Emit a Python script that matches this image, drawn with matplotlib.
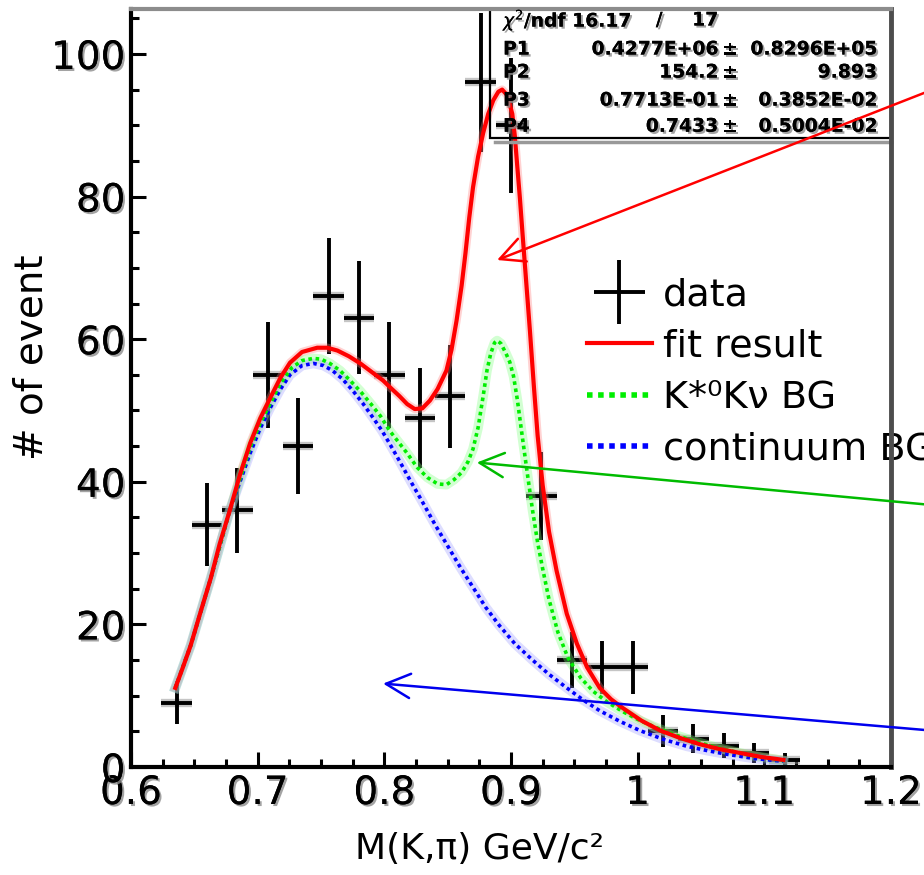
import numpy as np
import matplotlib.pyplot as plt
import matplotlib.patheffects as pe
from matplotlib.patches import Rectangle
from matplotlib.lines import Line2D
from matplotlib.ticker import MultipleLocator, FixedLocator, FixedFormatter
from matplotlib.legend_handler import HandlerErrorbar
from matplotlib.container import ErrorbarContainer

# histogram of M(K,pi), 0.024 GeV/c^2 bins
mass = [0.636, 0.660, 0.684, 0.708, 0.732, 0.756, 0.780, 0.804, 0.828, 0.852, 0.876,
        0.900, 0.924, 0.948, 0.972, 0.996, 1.020, 1.044, 1.068, 1.092, 1.116]
events = [9, 34, 36, 55, 45, 66, 63, 55, 49, 52, 96,
          90, 38, 15, 14, 14, 5, 4, 3, 2, 1]
half_bin = 0.012

# fit result (total)
fit_x = [0.635, 0.641, 0.647, 0.655, 0.663, 0.670, 0.678, 0.686, 0.694, 0.702, 0.710,
         0.718, 0.7255, 0.735, 0.747, 0.755, 0.763, 0.772, 0.781, 0.790, 0.799, 0.806,
         0.812, 0.818, 0.824, 0.830, 0.836, 0.842, 0.849, 0.853, 0.857, 0.861, 0.864,
         0.867, 0.870, 0.874, 0.878, 0.882, 0.886, 0.890, 0.893, 0.897, 0.901, 0.903,
         0.905, 0.907, 0.909, 0.912, 0.915, 0.918, 0.921, 0.925, 0.930, 0.936, 0.944,
         0.952, 0.960, 0.970, 0.979, 0.988, 1.003, 1.018, 1.033, 1.049, 1.065, 1.080,
         1.098, 1.115]
fit_y = [11.1, 14.0, 17.0, 21.8, 26.5, 31.3, 36.0, 41.0, 45.4, 48.9, 51.8,
         54.6, 56.7, 58.2, 58.8, 58.8, 58.4, 57.6, 56.6, 55.4, 54.2, 53.0,
         52.0, 50.9, 50.2, 50.3, 51.4, 53.0, 55.6, 58.5, 62.6, 67.5, 72.0,
         77.0, 81.3, 85.6, 88.9, 91.6, 93.5, 94.7, 95.0, 94.2, 91.6, 88.5,
         84.1, 79.8, 75.0, 68.0, 61.0, 53.5, 46.5, 39.5, 33.0, 27.5, 21.5,
         17.3, 14.0, 11.1, 9.5, 8.3, 6.5, 5.1, 4.1, 3.2, 2.5, 2.0,
         1.4, 1.0]

# K*0 K nu background
kst_x = [0.635, 0.647, 0.663, 0.678, 0.694, 0.702, 0.710, 0.718, 0.727, 0.735, 0.744,
         0.750, 0.757, 0.765, 0.773, 0.781, 0.789, 0.797, 0.804, 0.811, 0.818, 0.826,
         0.834, 0.842, 0.849, 0.855, 0.861, 0.866, 0.870, 0.874, 0.878, 0.881, 0.884,
         0.887, 0.889, 0.892, 0.896, 0.899, 0.902, 0.905, 0.909, 0.913, 0.917, 0.921,
         0.925, 0.930, 0.937, 0.945, 0.955, 0.965, 0.976, 0.989, 1.002, 1.015, 1.028,
         1.045, 1.063, 1.090, 1.115]
kst_y = [11.1, 17.0, 26.5, 36.0, 44.8, 48.2, 51.0, 53.8, 56.0, 57.0, 57.3,
         57.2, 56.6, 55.6, 54.2, 52.7, 51.0, 49.2, 47.2, 45.6, 44.0, 42.0,
         40.6, 39.7, 39.6, 40.3, 41.3, 42.8, 44.6, 47.6, 52.0, 55.6, 58.0,
         59.5, 59.8, 59.4, 58.0, 56.8, 54.8, 51.5, 46.2, 41.0, 36.0, 31.5,
         27.8, 23.5, 18.9, 15.3, 12.5, 10.6, 9.1, 7.7, 6.5, 5.5, 4.6,
         3.6, 2.7, 1.6, 0.9]

# continuum background
cont_x = [0.635, 0.647, 0.663, 0.678, 0.694, 0.702, 0.710, 0.718, 0.7255, 0.735, 0.744,
          0.752, 0.759, 0.767, 0.775, 0.783, 0.791, 0.798, 0.804, 0.812, 0.821, 0.830,
          0.840, 0.850, 0.860, 0.870, 0.880, 0.891, 0.903, 0.917, 0.930, 0.944, 0.957,
          0.970, 0.986, 1.002, 1.020, 1.039, 1.055, 1.070, 1.092, 1.115]
cont_y = [11.1, 17.0, 26.5, 36.0, 44.0, 47.5, 50.4, 53.0, 55.0, 56.3, 56.6,
          56.3, 55.6, 54.4, 52.8, 51.0, 49.0, 47.2, 45.4, 42.9, 40.0, 37.2,
          34.0, 31.0, 28.0, 25.2, 22.4, 19.8, 17.3, 15.0, 13.0, 11.1, 9.4,
          7.9, 6.4, 5.1, 3.9, 2.9, 2.3, 1.8, 1.2, 0.8]

stat_names = ["P1", "P2", "P3", "P4"]
stat_vals = ["0.4277E+06", "154.2", "0.7713E-01", "0.7433"]
stat_errs = ["0.8296E+05", "9.893", "0.3852E-02", "0.5004E-02"]

plt.rcParams['font.family'] = ['DejaVu Sans']

fig = plt.figure(figsize=(9.24, 8.75), dpi=100)
ax = fig.add_axes([0.1418, 0.1234, 0.8225, 0.8663])

shadow = [pe.withSimplePatchShadow(offset=(1.5, -1.5), shadow_rgbFace='0.55', alpha=0.8), pe.Normal()]

# data points
err = np.sqrt(events)
ax.errorbar(mass, events, xerr=half_bin, fmt='none', ecolor='0.55', elinewidth=6,
            capsize=0, alpha=0.5, zorder=1.8)
data = ax.errorbar(mass, events, xerr=half_bin, yerr=err, fmt='none', ecolor='black',
                   elinewidth=2.8, capsize=0, zorder=1.9)

# fitted curves, soft halo under each
ax.plot(fit_x, fit_y, color='#ff8080', lw=6, alpha=0.35, zorder=2)
ax.plot(kst_x, kst_y, color='#80ff80', lw=7, alpha=0.35, zorder=2)
ax.plot(cont_x, cont_y, color='#9090ff', lw=7, alpha=0.3, zorder=2)
ax.plot(cont_x, cont_y, color='#0000ff', lw=2.6, ls=(0, (1, 1)), zorder=2.1)
ax.plot(kst_x, kst_y, color='#00ee00', lw=2.6, ls=(0, (1, 1)), zorder=2.2)
ax.plot(fit_x, fit_y, color='#ff0000', lw=3, zorder=2.3)

ax.set_xlim(0.6, 1.2)
ax.set_ylim(0, 106.3)

# statistics box
ax.add_patch(Rectangle((0.8834, 88.2), 1.2 - 0.8834, 106.3 - 88.2, facecolor='none',
                       edgecolor='black', lw=1.6, zorder=2.4))
ax.plot([0.8870, 1.2], [87.6, 87.6], color='0.6', lw=2.5, zorder=2.4, clip_on=False)
box_font = dict(weight='bold', fontsize=13.5, transform=ax.transAxes, va='center',
                zorder=3, path_effects=shadow)
ax.text(0.4895, 0.9855, r"$\chi^2$/ndf 16.17", ha='left', **box_font)
ax.text(0.695, 0.9855, "/", ha='center', **box_font)
ax.text(0.7724, 0.9855, "17", ha='right', **box_font)
for i, (n, v, e) in enumerate(zip(stat_names, stat_vals, stat_errs)):
    yy = [0.9472, 0.9168, 0.8798, 0.8454][i]
    ax.text(0.4895, yy, n, ha='left', **box_font)
    ax.text(0.7724, yy, v, ha='right', **box_font)
    ax.text(0.788, yy, "±", ha='center', **box_font)
    ax.text(0.9816, yy, e, ha='right', **box_font)

# axes frame and ticks
for side in ['left', 'bottom']:
    ax.spines[side].set_linewidth(3)
    ax.spines[side].set_color('black')
ax.spines['top'].set_linewidth(3)
ax.spines['top'].set_color('0.55')
ax.spines['right'].set_linewidth(3.5)
ax.spines['right'].set_color('0.3')

ax.xaxis.set_major_locator(FixedLocator([0.6, 0.7, 0.8, 0.9, 1.0, 1.1, 1.2]))
ax.xaxis.set_major_formatter(FixedFormatter(["0.6", "0.7", "0.8", "0.9", "1", "1.1", "1.2"]))
ax.xaxis.set_minor_locator(MultipleLocator(0.025))
ax.yaxis.set_major_locator(FixedLocator([0, 20, 40, 60, 80, 100]))
ax.yaxis.set_minor_locator(MultipleLocator(5))
ax.tick_params(which='major', direction='in', length=11, width=2.2, color='black',
               labelsize=28, top=False, right=False)
ax.tick_params(axis='x', which='major', pad=5)
ax.tick_params(axis='y', which='major', pad=4)
ax.tick_params(which='minor', direction='in', length=5.5, width=2.2, color='black',
               top=False, right=False)
for lab in ax.get_xticklabels() + ax.get_yticklabels():
    lab.set_path_effects(shadow)

ax.set_xlabel("M(K,π) GeV/c²", fontsize=26)
ax.xaxis.set_label_coords(0.459, -0.086)
ax.set_ylabel("# of event", fontsize=28)
ax.yaxis.set_label_coords(-0.1066, 0.54)

# legend
handles = [data,
           Line2D([], [], color='#ff0000', lw=3),
           Line2D([], [], color='#00ee00', lw=4, ls=(0, (1, 1))),
           Line2D([], [], color='#0000ff', lw=4, ls=(0, (1, 1)))]
labels = ["data", "fit result", "K*⁰Kν BG", "continuum BG"]
leg = ax.legend(handles, labels, loc='upper left', bbox_to_anchor=(0.6, 0.646),
                frameon=False, borderpad=0, borderaxespad=0, handlelength=1.7,
                handletextpad=0.28, labelspacing=0.4,
                prop=dict(size=27.5),
                handler_map={ErrorbarContainer: HandlerErrorbar(xerr_size=0.66, yerr_size=0.85)})
leg.set_zorder(2.45)

# arrows pointing at each component
arrow_kw = dict(arrowstyle='->,head_length=0.7,head_width=0.35', mutation_scale=25,
                lw=1.8, shrinkA=0, shrinkB=0)
ax.annotate("", xy=(0.889, 71.1), xycoords='data', xytext=(1.02, 0.902),
            textcoords='figure fraction', arrowprops=dict(color='#ff0000', **arrow_kw),
            annotation_clip=False)
ax.annotate("", xy=(0.873, 42.7), xycoords='data', xytext=(1.02, 0.4217),
            textcoords='figure fraction', arrowprops=dict(color='#00bb00', **arrow_kw),
            annotation_clip=False)
ax.annotate("", xy=(0.799, 11.7), xycoords='data', xytext=(1.02, 0.164),
            textcoords='figure fraction', arrowprops=dict(color='#0000ee', **arrow_kw),
            annotation_clip=False)

fig.savefig("out.png", dpi=100)
